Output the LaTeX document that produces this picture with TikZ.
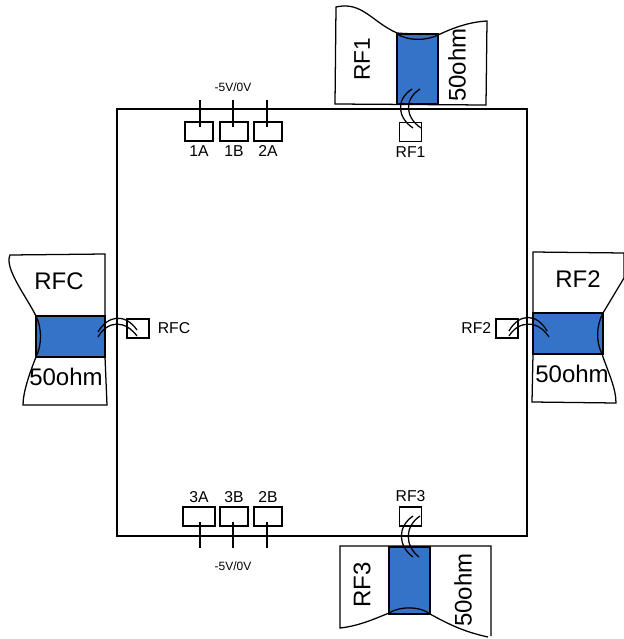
\documentclass[tikz,border=0pt]{standalone}
\usepackage{fontspec}
\setmainfont{Liberation Sans}
\usetikzlibrary{positioning}
\definecolor{lineaAzul}{RGB}{52,115,200}

\tikzset{
  padBox/.style={draw=black, fill=white, line width=0.9pt, inner sep=0pt, minimum width=21pt, minimum height=14.25pt},
  padLabel/.style={font=\fontsize{11.8}{13}\selectfont, inner sep=0pt},
  bigLabel/.style={font=\fontsize{18}{20}\selectfont, inner sep=0pt},
  volt/.style={font=\fontsize{9}{11}\selectfont, inner sep=0pt},
  wire/.style={line width=0.95pt},
  conector/.style={fill=white, draw=black, line width=0.95pt},
  strip/.style={fill=lineaAzul, draw=black, line width=1.6pt}
}

\begin{document}
\begin{tikzpicture}[x=0.75pt, y=-0.75pt]
  \useasboundingbox (0,0) rectangle (624,639);

  % 1. CONECTOR RF1 (arriba)
  \draw[conector] (336,7) .. controls (362,1) and (372,22) .. (397,33)
    .. controls (408,34) and (428,34) .. (438,35)
    .. controls (455,27) and (470,22) .. (487,21) -- (486,105) -- (335,104) -- cycle;
  \draw[strip] (397,34) rectangle (438,104);
  \draw[wire] (397,34) .. controls (408,41) and (426,41) .. (438,35);
  \node[bigLabel, rotate=90] (txtRFa) at (362,59) {\fontsize{17}{20}\selectfont RF1};
  \node[bigLabel, rotate=90] (ohmRFa) at (457,65) {50ohm};

  % 2. CONECTOR RFC (izquierda)
  \draw[conector] (10,255) .. controls (4,268) and (26,296) .. (36,316)
    -- (105,316) -- (105,254) -- cycle;
  \draw[conector] (36,357) .. controls (30,372) and (23,392) .. (23,405)
    -- (107,405) -- (105,357) -- cycle;
  \draw[strip] (36,316) rectangle (105,357);
  \draw[wire] (36,316) .. controls (42,328) and (42,345) .. (36,357);
  \node[bigLabel] (txtRFC) at (59,281) {RFC};
  \node[bigLabel] (ohmRFC) at (66,377) {50ohm};

  % 3. CONECTOR RF2 (derecha)
  \draw[conector] (603,313) -- (624,278) -- (624,253) -- (533,252) -- (533,313) -- cycle;
  \draw[conector] (602,354) .. controls (608,372) and (616,388) .. (616,403)
    -- (532,402) -- (533,354) -- cycle;
  \draw[strip] (533,313) rectangle (603,354);
  \draw[wire] (603,313) .. controls (596,326) and (596,342) .. (602,354);
  \node[bigLabel] (txtRFb) at (578,279) {RF2};
  \node[bigLabel] (ohmRFb) at (572,374) {50ohm};

  % 4. CONECTOR RF3 (abajo)
  \draw[line width=0.95pt] (491,636) -- (491,546) -- (340,546) -- (340,628)
    .. controls (358,626) and (372,620) .. (389,613);
  \draw[line width=0.95pt] (430,614) .. controls (450,625) and (465,632) .. (488,637);
  \draw[strip] (389,547) rectangle (430,614);
  \draw[wire] (389,613) .. controls (400,606) and (420,606) .. (430,614);
  \node[bigLabel, rotate=90] (txtRFc) at (362,585) {RF3};
  \node[bigLabel, rotate=90] (ohmRFc) at (463,590) {50ohm};

  % 5. CHIP
  \draw[line width=1pt] (117,109) rectangle (527,536);

  % 6. PADS DE CONTROL
  \foreach \pad/\px/\tx in {1A/199/200, 1B/234/233, 2A/268/267} {
    \node[padBox] (pad\pad) at (\px,131.5) {};
    \node[padLabel, below=2.5pt of pad\pad] (lab\pad) {\pad};
    \coordinate (top\pad) at (\tx,100);
    \draw[wire] (top\pad) -- (\tx,127);
  }
  \foreach \pad/\px/\tx/\wpad in {3A/199/200/24, 3B/234/233/21, 2B/268/267/21} {
    \node[padBox, minimum width=\wpad pt] (pad\pad) at (\px,516.5) {};
    \node[padLabel, above=2.5pt of pad\pad] (lab\pad) {\pad};
    \coordinate (bot\pad) at (\tx,548);
    \draw[wire] (bot\pad) -- (\tx,522);
  }
  \node[volt] (voltTop) at (233,87) {-5V/0V};
  \node[volt] (voltBot) at (233,566) {-5V/0V};

  % 7. PADS RF
  \node[padBox, minimum width=16.5pt] (padRFa) at (410.5,132) {};
  \node[padLabel, below=3pt of padRFa] (labRFa) {RF1};
  \node[padBox, minimum width=16.5pt] (padRFC) at (138,328.5) {};
  \node[padLabel, right=6pt of padRFC] (labRFC) {RFC};
  \node[padBox, minimum width=16.5pt] (padRFb) at (507,328.5) {};
  \node[padLabel, left=3pt of padRFb] (labRFb) {RF2};
  \node[padBox, minimum width=16.5pt] (padRFc) at (410.5,516.5) {};
  \node[padLabel, above=3pt of padRFc] (labRFc) {RF3};

  % 8. HILOS DE UNION
  \draw[wire] (412,89) .. controls (395,100) and (398,118) .. (413,128);
  \draw[wire] (420,89) .. controls (403,100) and (406,118) .. (421,128);
  \draw[wire] (98,332) .. controls (108,315) and (125,313) .. (137,330);
  \draw[wire] (98,337) .. controls (108,320) and (125,320) .. (137,336);
  \draw[wire] (509,331) .. controls (519,313) and (537,313) .. (547,331);
  \draw[wire] (509,336) .. controls (519,320) and (538,320) .. (549,337);
  \draw[wire] (413,516) .. controls (397,527) and (398,546) .. (413,557);
  \draw[wire] (420,516) .. controls (404,527) and (405,546) .. (419,557);
\end{tikzpicture}
\end{document}
